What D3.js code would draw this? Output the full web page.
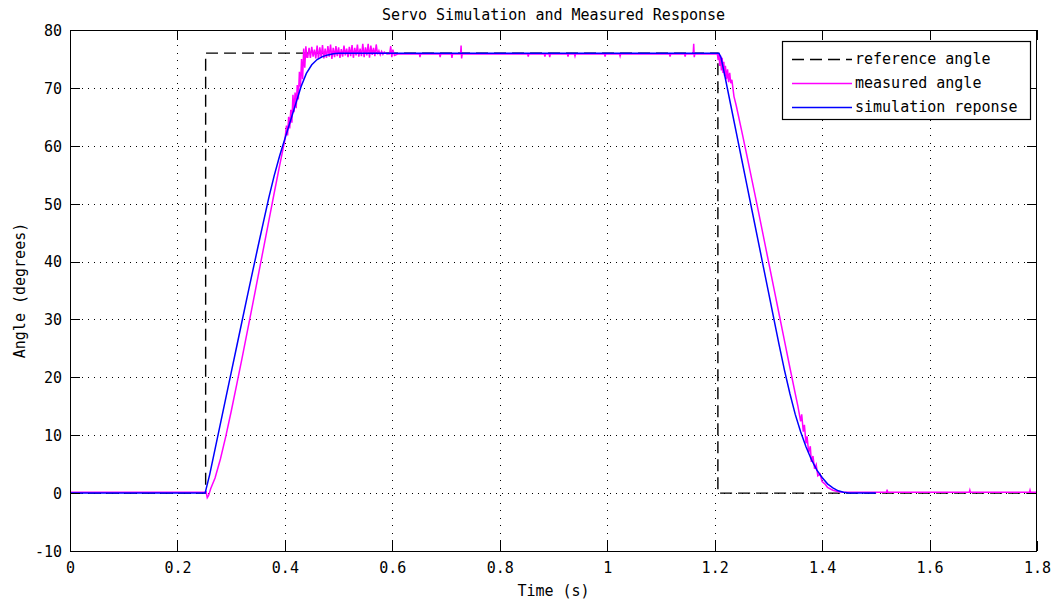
<!DOCTYPE html>
<html>
<head>
<meta charset="utf-8">
<script src="https://cdn.jsdelivr.net/npm/d3@7"></script>
<style>
  html, body { margin: 0; padding: 0; background: #fff; }
  svg { display: block; }
  text { font-family: "DejaVu Sans Mono", "Liberation Mono", monospace; font-size: 15px; fill: #000; }
</style>
</head>
<body>
<svg id="chart" width="1053" height="602"></svg>
<script>
// ---------- data ----------
const title = "Servo Simulation and Measured Response";
const xLabel = "Time (s)";
const yLabel = "Angle (degrees)";
const xTicks = [0, 0.2, 0.4, 0.6, 0.8, 1.0, 1.2, 1.4, 1.6, 1.8];
const xTickLabels = ["0", "0.2", "0.4", "0.6", "0.8", "1", "1.2", "1.4", "1.6", "1.8"];
const yTicks = [-10, 0, 10, 20, 30, 40, 50, 60, 70, 80];
const yTickLabels = ["-10", "0", "10", "20", "30", "40", "50", "60", "70", "80"];
const seriesNames = ["reference angle", "measured angle", "simulation reponse"];

// reference angle [time, angle]
const reference = [[0, 0], [0.2525, 0], [0.2525, 76], [1.206, 76], [1.206, 0], [1.8, 0]];

// simulation response [time, angle]
const simulation = [
  [0, 0], [0.2515, 0], [0.26, 3.2], [0.27, 7.6], [0.28, 12], [0.29, 16.4], [0.30, 20.8],
  [0.31, 25.2], [0.32, 29.6], [0.33, 34], [0.34, 38.3], [0.35, 42.6], [0.36, 46.8],
  [0.37, 51], [0.38, 54.8], [0.39, 58.2], [0.40, 61.2], [0.41, 64.2], [0.42, 67.2],
  [0.43, 70.2], [0.44, 72.5], [0.45, 74.0], [0.46, 74.9], [0.47, 75.4], [0.48, 75.7],
  [0.49, 75.9], [0.50, 76], [1.208, 76], [1.212, 75.2], [1.218, 72.5], [1.23, 67],
  [1.24, 62.4], [1.25, 57.8], [1.26, 53.2], [1.27, 48.6], [1.28, 44], [1.29, 39.4],
  [1.30, 34.8], [1.31, 30.2], [1.32, 25.6], [1.33, 21.2], [1.34, 17.2], [1.35, 13.6],
  [1.36, 10.6], [1.37, 8.0], [1.38, 5.8], [1.39, 4.0], [1.40, 2.7], [1.41, 1.6],
  [1.42, 0.9], [1.43, 0.4], [1.44, 0.15], [1.45, 0.02], [1.5, 0]
];

// measured angle [time, angle]
const measured = [
  [0, 0.15], [0.2535, 0.15], [0.2555, -0.8], [0.258, -0.4], [0.262, 0.8], [0.27, 2.6],
  [0.28, 5.9], [0.29, 9.8], [0.30, 14.1], [0.31, 18.6], [0.32, 23.2], [0.33, 27.9],
  [0.34, 32.6], [0.35, 37.4], [0.36, 42.2], [0.37, 47.0], [0.38, 51.8], [0.39, 56.5],
  [0.40, 61.0], [0.403, 63.5], [0.405, 61.8], [0.407, 65.0], [0.409, 63.0], [0.411, 66.2],
  [0.413, 64.0], [0.415, 68.8], [0.417, 65.8], [0.419, 69.2], [0.421, 66.5], [0.423, 70.5],
  [0.425, 68.0], [0.427, 72.8], [0.429, 70.2], [0.431, 75.0], [0.433, 71.5], [0.435, 76.8],
  [0.437, 73.5], [0.439, 77.2], [0.441, 75.3],
  [0.4425, 75.3], [0.445, 76.9], [0.4475, 75.2], [0.45, 77.1], [0.4525, 75.4], [0.455, 76.6],
  [0.4575, 75.1], [0.46, 77.3], [0.4625, 75.0], [0.465, 77.0], [0.4675, 75.3], [0.47, 77.4],
  [0.4725, 75.1], [0.475, 76.8], [0.4775, 75.2], [0.48, 77.2], [0.4825, 75.4], [0.485, 77.5],
  [0.4875, 75.0], [0.49, 76.9], [0.4925, 75.3], [0.495, 77.2], [0.4975, 75.5], [0.50, 77.0],
  [0.5025, 75.2], [0.505, 76.7], [0.5075, 75.4], [0.51, 77.3], [0.5125, 75.6], [0.515, 76.8],
  [0.5175, 75.3], [0.52, 77.1], [0.5225, 75.5], [0.525, 77.4], [0.5275, 75.2], [0.53, 76.9],
  [0.5325, 75.6], [0.535, 77.5], [0.5375, 75.4], [0.54, 76.8], [0.5425, 75.5], [0.545, 77.6],
  [0.5475, 75.3], [0.55, 77.0], [0.5525, 75.6], [0.555, 77.6], [0.5575, 75.2], [0.56, 77.3],
  [0.5625, 75.7], [0.565, 76.9], [0.5675, 75.5], [0.57, 77.5], [0.5725, 75.8], [0.575, 76.4],
  [0.5775, 75.7], [0.58, 76.3], [0.5825, 75.8], [0.585, 76.2], [0.59, 75.85], [0.595, 75.9],
  [0.597, 77.2], [0.599, 75.3], [0.601, 76.6], [0.604, 75.6], [0.61, 75.85],
  [0.6505, 75.85], [0.6515, 75.3], [0.6525, 75.85], [0.688, 75.85], [0.689, 75.3], [0.690, 75.85],
  [0.710, 75.85], [0.711, 75.2], [0.712, 75.85], [0.727, 75.85], [0.728, 77.3], [0.729, 75.1],
  [0.730, 75.85], [0.852, 75.85], [0.853, 75.4], [0.854, 75.85], [0.883, 75.85], [0.884, 75.4],
  [0.885, 75.85], [0.892, 75.85], [0.893, 75.3], [0.894, 75.85], [0.926, 75.85], [0.927, 75.4],
  [0.928, 75.85], [0.939, 75.85], [0.940, 75.5], [0.941, 75.85], [0.995, 75.85], [0.996, 75.4],
  [0.997, 75.85], [1.023, 75.85], [1.024, 75.5], [1.025, 75.85], [1.116, 75.85], [1.117, 75.4],
  [1.118, 75.85], [1.144, 75.85], [1.145, 75.4], [1.146, 75.85], [1.160, 75.85], [1.161, 77.6],
  [1.162, 75.3], [1.163, 75.85], [1.205, 75.85],
  [1.2065, 74.8], [1.208, 76.0], [1.2095, 73.8], [1.211, 75.6], [1.2125, 73.0], [1.214, 75.2],
  [1.2155, 72.6], [1.217, 74.5], [1.2185, 72.0], [1.22, 73.8], [1.222, 71.5], [1.224, 73.2],
  [1.226, 71.0], [1.228, 72.6], [1.23, 70.8], [1.232, 71.4], [1.236, 68.5], [1.24, 67.0],
  [1.25, 62.7], [1.26, 58.3], [1.27, 53.8], [1.28, 49.3], [1.29, 44.7], [1.30, 40.1],
  [1.31, 35.5], [1.32, 30.9], [1.33, 26.3], [1.34, 21.7], [1.35, 17.2], [1.355, 15.0],
  [1.36, 12.4], [1.362, 13.6], [1.365, 10.6], [1.367, 11.8], [1.37, 8.6], [1.372, 9.8],
  [1.375, 7.0], [1.378, 8.1], [1.38, 5.4], [1.383, 6.4], [1.386, 4.2], [1.389, 4.9],
  [1.392, 3.0], [1.396, 3.3], [1.40, 2.0], [1.405, 1.6], [1.41, 1.0], [1.42, 0.5],
  [1.43, 0.25], [1.44, 0.15], [1.520, 0.15], [1.521, 0.6], [1.522, 0.15], [1.674, 0.15],
  [1.675, 0.5], [1.676, 0.15], [1.786, 0.15], [1.787, 0.5], [1.788, 0.15], [1.8, 0.15]
];

// ---------- layout ----------
const svg = d3.select("#chart");
const L = 70, R = 1037, T = 30, B = 551;
const x = d3.scaleLinear().domain([0, 1.8]).range([L, R]);
const y = d3.scaleLinear().domain([-10, 80]).range([B, T]);

svg.append("rect").attr("width", 1053).attr("height", 602).attr("fill", "#fff");
svg.append("rect").attr("x", L).attr("y", T).attr("width", R - L).attr("height", B - T).attr("fill", "#fff");

svg.append("defs").append("clipPath").attr("id", "clip")
  .append("rect").attr("x", L).attr("y", T).attr("width", R - L).attr("height", B - T);

// grid
const grid = svg.append("g").attr("stroke", "#000").attr("stroke-width", 1).attr("shape-rendering", "crispEdges");
xTicks.slice(1, -1).forEach(t => {
  const px = Math.round(x(t)) + 0.5;
  grid.append("line").attr("x1", px).attr("x2", px).attr("y1", T).attr("y2", B)
    .attr("stroke-dasharray", "1,6.5");
});
yTicks.slice(1, -1).forEach(v => {
  const py = Math.round(y(v)) + 0.5;
  grid.append("line").attr("x1", L).attr("x2", R).attr("y1", py).attr("y2", py)
    .attr("stroke-dasharray", "1,5");
});

// lines
const line = d3.line().x(d => x(d[0])).y(d => y(d[1]));
const plot = svg.append("g").attr("clip-path", "url(#clip)");
plot.append("path").datum(reference).attr("d", line).attr("fill", "none")
  .attr("stroke", "#000").attr("stroke-width", 1.4).attr("stroke-dasharray", "12,6");
plot.append("path").datum(measured).attr("d", line).attr("fill", "none")
  .attr("stroke", "#ff00ff").attr("stroke-width", 1.5);
plot.append("path").datum(simulation).attr("d", line).attr("fill", "none")
  .attr("stroke", "#0000ff").attr("stroke-width", 1.5);

// axes
const gB = svg.append("g").attr("transform", `translate(0,${B})`)
  .call(d3.axisBottom(x).tickValues(xTicks).tickFormat((d, i) => xTickLabels[i])
    .tickSizeInner(-10).tickSizeOuter(0).tickPadding(11));
const gT = svg.append("g").attr("transform", `translate(0,${T})`)
  .call(d3.axisTop(x).tickValues(xTicks).tickFormat("").tickSizeInner(-10).tickSizeOuter(0));
const gL = svg.append("g").attr("transform", `translate(${L},0)`)
  .call(d3.axisLeft(y).tickValues(yTicks).tickFormat((d, i) => yTickLabels[i])
    .tickSizeInner(-10).tickSizeOuter(0).tickPadding(8));
const gR = svg.append("g").attr("transform", `translate(${R},0)`)
  .call(d3.axisRight(y).tickValues(yTicks).tickFormat("").tickSizeInner(-10).tickSizeOuter(0));
[gB, gT, gL, gR].forEach(g => {
  g.select(".domain").remove();
  g.selectAll("line").attr("stroke", "#000").attr("stroke-width", 1).attr("shape-rendering", "crispEdges");
  g.selectAll("text").attr("font-family", "DejaVu Sans Mono").attr("font-size", 15).attr("fill", "#000");
});
gL.selectAll("text").attr("dy", "0.36em");

// box
svg.append("rect").attr("x", L + 0.5).attr("y", T + 0.5).attr("width", R - L - 1).attr("height", B - T)
  .attr("fill", "none").attr("stroke", "#000").attr("stroke-width", 1.2).attr("shape-rendering", "crispEdges");

// titles
svg.append("text").attr("x", (L + R) / 2).attr("y", 20).attr("text-anchor", "middle").text(title);
svg.append("text").attr("x", (L + R) / 2).attr("y", 596).attr("text-anchor", "middle").text(xLabel);
svg.append("text").attr("transform", `translate(25,${(T + B) / 2}) rotate(-90)`)
  .attr("text-anchor", "middle").text(yLabel);

// legend
const lg = svg.append("g");
lg.append("rect").attr("x", 782.5).attr("y", 41.5).attr("width", 248).attr("height", 78)
  .attr("fill", "#fff").attr("stroke", "#000").attr("stroke-width", 1.2);
const legendStyles = [
  { color: "#000", dash: "12,6" },
  { color: "#ff00ff", dash: null },
  { color: "#0000ff", dash: null }
];
seriesNames.forEach((name, i) => {
  const cy = 59 + i * 24;
  lg.append("line").attr("x1", 792).attr("x2", 852).attr("y1", cy + 0.5).attr("y2", cy + 0.5)
    .attr("stroke", legendStyles[i].color).attr("stroke-width", 1.3)
    .attr("stroke-dasharray", legendStyles[i].dash);
  lg.append("text").attr("x", 855).attr("y", cy).attr("dy", "0.36em").text(name);
});
</script>
</body>
</html>
